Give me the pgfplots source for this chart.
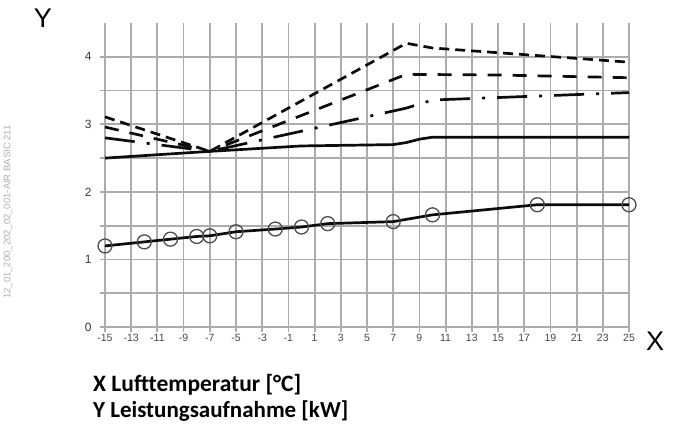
\documentclass[border=0pt]{standalone}
\usepackage{fontspec}
\setmainfont{Liberation Sans}
\newfontfamily\captionfont{Carlito}
\usepackage{pgfplots}
\pgfplotsset{compat=1.18}

\definecolor{gridgray}{RGB}{172,172,172}
\definecolor{curve}{RGB}{12,12,12}

\begin{document}
\begin{tikzpicture}
\useasboundingbox (-105pt,-99pt) rectangle (570pt,327pt);
\begin{axis}[
  at={(0pt,0pt)}, anchor=south west,
  scale only axis, width=524pt, height=304pt,
  xmin=-15, xmax=25, ymin=0, ymax=4.5,
  clip=false,
  axis line style={draw=none},
  xtick={-15,-13,...,25},
  xticklabels={-15,-13,-11,-9,-7,-5,-3,-1,1,3,5,7,9,11,13,15,17,19,21,23,25},
  ytick={0,0.5,1,1.5,2,2.5,3,3.5,4},
  yticklabels={0,{},1,{},2,{},3,{},4},
  xtick pos=bottom, ytick pos=left,
  tick align=outside,
  major tick length=5pt,
  tick style={gridgray, line width=1.8pt},
  xmajorgrids, ymajorgrids,
  major grid style={gridgray, line width=1.8pt},
  xticklabel style={font=\fontsize{10.5}{11}\selectfont, text=black!72, yshift=1pt},
  yticklabel style={font=\fontsize{12}{13}\selectfont, text=black!78, xshift=-5pt},
]
% upper solid curve
\addplot[curve, line width=2.7pt] coordinates {
  (-15,2.50) (-7,2.60) (0,2.68) (7,2.70) (8,2.73) (9,2.78) (10,2.81) (25,2.81)};
% dash-dot curve
\addplot[curve, line width=2.7pt, dash pattern=on 30pt off 12pt on 3pt off 12pt] coordinates {
  (-15,2.80) (-7,2.60) (8,3.24) (10,3.36) (25,3.47)};
% medium dashed curve
\addplot[curve, line width=2.7pt, dash pattern=on 14pt off 11pt] coordinates {
  (-15,2.96) (-7,2.60) (8,3.74) (15,3.73) (25,3.69)};
% short dashed curve
\addplot[curve, line width=2.7pt, dash pattern=on 10pt off 6pt] coordinates {
  (-15,3.11) (-7,2.60) (8,4.20) (10,4.13) (25,3.92)};
% lower curve with measured points
\addplot[curve, line width=2.7pt, mark=o, mark size=7pt,
  mark options={line width=1.3pt, draw=black!70}] coordinates {
  (-15,1.20) (-12,1.26) (-10,1.30) (-8,1.34) (-7,1.35) (-5,1.41) (-2,1.45)
  (0,1.48) (2,1.53) (7,1.56) (10,1.66) (18,1.81) (25,1.81)};
\end{axis}
% axis letters
\node[font=\fontsize{27}{28}\selectfont] at (-62pt,309pt) {Y};
\node[font=\fontsize{27}{28}\selectfont] at (550pt,-14pt) {X};
% legend of axes
\node[anchor=base west, inner sep=0pt, font=\captionfont\bfseries\fontsize{23.5}{25}\selectfont]
  at (-12pt,-64pt) {X Lufttemperatur [°C]};
\node[anchor=base west, inner sep=0pt, font=\captionfont\bfseries\fontsize{23}{25}\selectfont]
  at (-12pt,-90pt) {Y Leistungsaufnahme [kW]};
% drawing number
\node[rotate=90, text=black!32, font=\fontsize{9.5}{10}\selectfont] at (-97pt,115pt)
  {12\_01\_200\_202\_02\_001-AIR BASIC 211};
\end{tikzpicture}
\end{document}
